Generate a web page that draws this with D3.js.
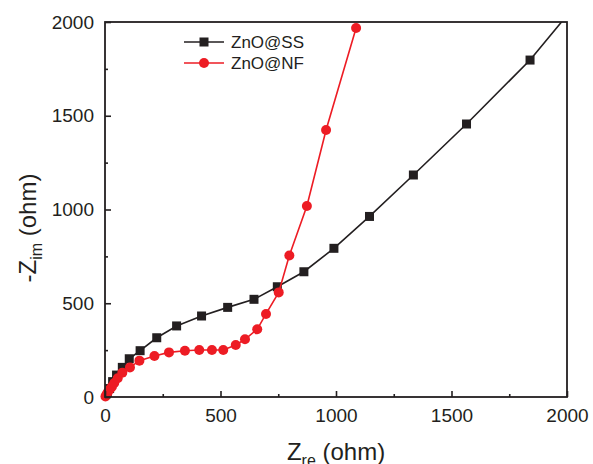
<!DOCTYPE html>
<html>
<head>
<meta charset="utf-8">
<script src="https://d3js.org/d3.v7.min.js"></script>
<style>
  body { margin: 0; background: #fff; }
  text { font-family: "Liberation Sans", Arial, sans-serif; fill: #231f20; }
</style>
</head>
<body>
<svg width="593" height="464"></svg>
<script>
// ZnO@SS (black squares)
var ssRe = [3, 10, 20, 33, 50, 75, 105, 152, 224, 310, 418, 531, 645, 746, 861, 991, 1145, 1335, 1565, 1840, 2050];
var ssIm = [4, 20, 45, 82, 117, 158, 204, 247, 316, 379, 432, 478, 521, 588, 668, 793, 963, 1184, 1456, 1797, 2110];
// ZnO@NF (red circles)
var nfRe = [2, 6, 12, 20, 30, 40, 55, 75, 108, 149, 214, 277, 346, 408, 463, 512, 566, 606, 659, 697, 752, 798, 874, 957, 1087];
var nfIm = [3, 12, 25, 40, 55, 75, 100, 130, 158, 194, 219, 238, 247, 251, 251, 251, 277, 308, 361, 443, 558, 755, 1019, 1424, 1968];
var xTicks = [0, 500, 1000, 1500, 2000];
var yTicks = [0, 500, 1000, 1500, 2000];
var minorTicks = [250, 750, 1250, 1750];
var seriesNames = ["ZnO@SS", "ZnO@NF"];

var black = "#231f20", red = "#ed1c24";
var svg = d3.select("svg");
var pl = 105, pt = 22, pr = 567, pb = 397;

var x = d3.scaleLinear().domain([0, 2000]).range([pl, pr]);
var y = d3.scaleLinear().domain([0, 2000]).range([pb, pt]);

svg.append("clipPath").attr("id", "clip")
  .append("rect").attr("x", pl).attr("y", pt).attr("width", pr - pl).attr("height", pb - pt);

var ss = ssRe.map((d, i) => [d, ssIm[i]]);
var nf = nfRe.map((d, i) => [d, nfIm[i]]);
var line = d3.line().x(d => x(d[0])).y(d => y(d[1]));

var plot = svg.append("g").attr("clip-path", "url(#clip)");
plot.append("path").datum(ss).attr("d", line)
  .attr("fill", "none").attr("stroke", black).attr("stroke-width", 1.6);
plot.selectAll("rect.ss").data(ss).enter().append("rect").attr("class", "ss")
  .attr("x", d => x(d[0]) - 4.5).attr("y", d => y(d[1]) - 4.5)
  .attr("width", 9).attr("height", 9).attr("fill", black);

svg.append("path").datum(nf).attr("d", line)
  .attr("fill", "none").attr("stroke", red).attr("stroke-width", 1.6);
svg.selectAll("circle.nf").data(nf).enter().append("circle").attr("class", "nf")
  .attr("cx", d => x(d[0])).attr("cy", d => y(d[1])).attr("r", 5).attr("fill", red);

// frame
svg.append("rect").attr("x", pl).attr("y", pt).attr("width", pr - pl).attr("height", pb - pt)
  .attr("fill", "none").attr("stroke", black).attr("stroke-width", 1.8);

// axes with inward ticks
var xAxis = svg.append("g").attr("transform", "translate(0," + pb + ")")
  .call(d3.axisBottom(x).tickValues(xTicks).tickSize(-6).tickPadding(12).tickFormat(d3.format("d")));
var xMinor = svg.append("g").attr("transform", "translate(0," + pb + ")")
  .call(d3.axisBottom(x).tickValues(minorTicks).tickSize(-3).tickFormat(""));
var yAxis = svg.append("g").attr("transform", "translate(" + pl + ",0)")
  .call(d3.axisLeft(y).tickValues(yTicks).tickSize(-6).tickPadding(11).tickFormat(d3.format("d")));
var yMinor = svg.append("g").attr("transform", "translate(" + pl + ",0)")
  .call(d3.axisLeft(y).tickValues(minorTicks).tickSize(-3).tickFormat(""));

[xAxis, xMinor, yAxis, yMinor].forEach(function (a) {
  a.select(".domain").remove();
  a.selectAll("line").attr("stroke", black).attr("stroke-width", 1.6);
  a.selectAll("text").attr("font-size", 19).style("font-family", "Liberation Sans, Arial, sans-serif").attr("fill", black);
});

// axis titles
var xt = svg.append("text").attr("x", 336).attr("y", 460).attr("text-anchor", "middle").attr("font-size", 24);
xt.append("tspan").text("Z");
xt.append("tspan").attr("font-size", 16).attr("dy", 6).text("re");
xt.append("tspan").attr("dy", -6).text(" (ohm)");

var yt = svg.append("text").attr("transform", "translate(36,228) rotate(-90)").attr("text-anchor", "middle").attr("font-size", 24);
yt.append("tspan").text("-Z");
yt.append("tspan").attr("font-size", 16).attr("dy", 6).text("im");
yt.append("tspan").attr("dy", -6).text(" (ohm)");

// legend
var lg = svg.append("g");
var colors = [black, red];
seriesNames.forEach(function (name, i) {
  var ly = 42 + i * 21;
  lg.append("line").attr("x1", 184).attr("x2", 224).attr("y1", ly).attr("y2", ly)
    .attr("stroke", colors[i]).attr("stroke-width", 1.6);
  if (i === 0) {
    lg.append("rect").attr("x", 199.5).attr("y", ly - 4.5).attr("width", 9).attr("height", 9).attr("fill", black);
  } else {
    lg.append("circle").attr("cx", 204).attr("cy", ly).attr("r", 5).attr("fill", red);
  }
  lg.append("text").attr("x", 231).attr("y", ly + 6).attr("font-size", 17).text(name);
});
</script>
</body>
</html>
